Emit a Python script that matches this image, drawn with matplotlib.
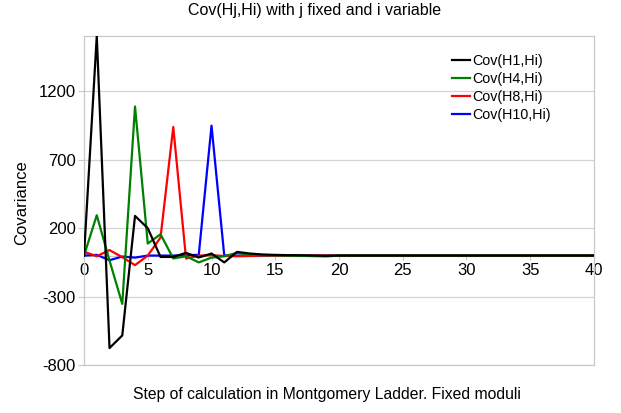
import matplotlib
matplotlib.use("Agg")
import matplotlib.pyplot as plt
import numpy as np

plt.rcParams['font.family'] = ['Liberation Sans', 'DejaVu Sans']
plt.rcParams['axes.unicode_minus'] = False

steps = list(range(41))

cov_h1 = [0, 1605, -676, -584, 290, 200, -10, -10, 20, -14, 15, -50, 27, 15, 8, 5, 3, 2, 0, -2, 0,
          0, 0, 0, 0, 0, 0, 0, 0, 0, 0, 0, 0, 0, 0, 0, 0, 0, 0, 0, 0]
cov_h4 = [0, 295, -37, -353, 1090, 88, 156, -21, -5, -50, -15, -5, 20, 6, 3, 2, 0, -2, -4, -6, 0,
          0, 0, 0, 0, 0, 0, 0, 0, 0, 0, 0, 0, 0, 0, 0, 0, 0, 0, 0, 0]
cov_h8 = [28, -5, 40, -12, -70, 0, 132, 940, -22, 0, 3, -3, -5, -3, 0, 0, 0, 0, 0, 0, 0,
          0, 0, 0, 0, 0, 0, 0, 0, 0, 0, 0, 0, 0, 0, 0, 0, 0, 0, 0, 0]
cov_h10 = [0, 5, -34, -7, -15, 0, 0, 0, 3, 5, 950, 0, 0, 0, 0, 0, 0, 0, 0, 0, 0,
           0, 0, 0, 0, 0, 0, 0, 0, 0, 0, 0, 0, 0, 0, 0, 0, 0, 0, 0, 0]

series = [
    ("Cov(H1,Hi)", cov_h1, "#000000"),
    ("Cov(H4,Hi)", cov_h4, "#008000"),
    ("Cov(H8,Hi)", cov_h8, "#ff0000"),
    ("Cov(H10,Hi)", cov_h10, "#0000ff"),
]

y_ticks = [-800, -300, 200, 700, 1200]
x_ticks = [0, 5, 10, 15, 20, 25, 30, 35, 40]

fig = plt.figure(figsize=(6.21, 4.13), dpi=100)
ax = fig.add_axes([0.1353, 0.1162, 0.8212, 0.7966])

handles = []
for k, (name, vals, col) in enumerate(series):
    h, = ax.plot(steps, vals, color=col, lw=1.6, label=name, zorder=10 - k)
    handles.append(h)

ax.set_xlim(0, 40)
ax.set_ylim(-800, 1605)
ax.set_yticks(y_ticks)
ax.set_xticks(x_ticks)
ax.yaxis.grid(True, color="#d4d4d4", lw=0.9)
ax.set_axisbelow(True)

grey = "#c8c8c8"
for side in ["left", "right", "top"]:
    ax.spines[side].set_color(grey)
    ax.spines[side].set_linewidth(0.9)
ax.spines["bottom"].set_position(("data", 0))
ax.spines["bottom"].set_color(grey)
ax.spines["bottom"].set_linewidth(0.9)
ax.spines["bottom"].set_zorder(0)

ax.tick_params(axis="y", length=4, color=grey, labelsize=12, pad=2)
ax.tick_params(axis="x", length=3, color=grey, labelsize=12, pad=2)

# lower edge of the frame
ax.plot([0, 1], [0, 0], transform=ax.transAxes, color=grey, lw=0.9, clip_on=False, zorder=0)

fig.text(315 / 621, 1 - 10 / 413, "Cov(Hj,Hi) with j fixed and i variable",
         ha="center", va="center", fontsize=11.5)
fig.text(22 / 621, 1 - 203 / 413, "Covariance", rotation=90,
         ha="center", va="center", fontsize=12)
fig.text(327 / 621, 1 - 395 / 413, "Step of calculation in Montgomery Ladder. Fixed moduli",
         ha="center", va="center", fontsize=11.3)

ax.legend(handles=handles, loc="upper left", bbox_to_anchor=(0.711, 0.964),
          frameon=False, fontsize=10.3, handlelength=1.25, handletextpad=0.15,
          labelspacing=0.3, borderaxespad=0)

fig.savefig("out.png", dpi=100)
